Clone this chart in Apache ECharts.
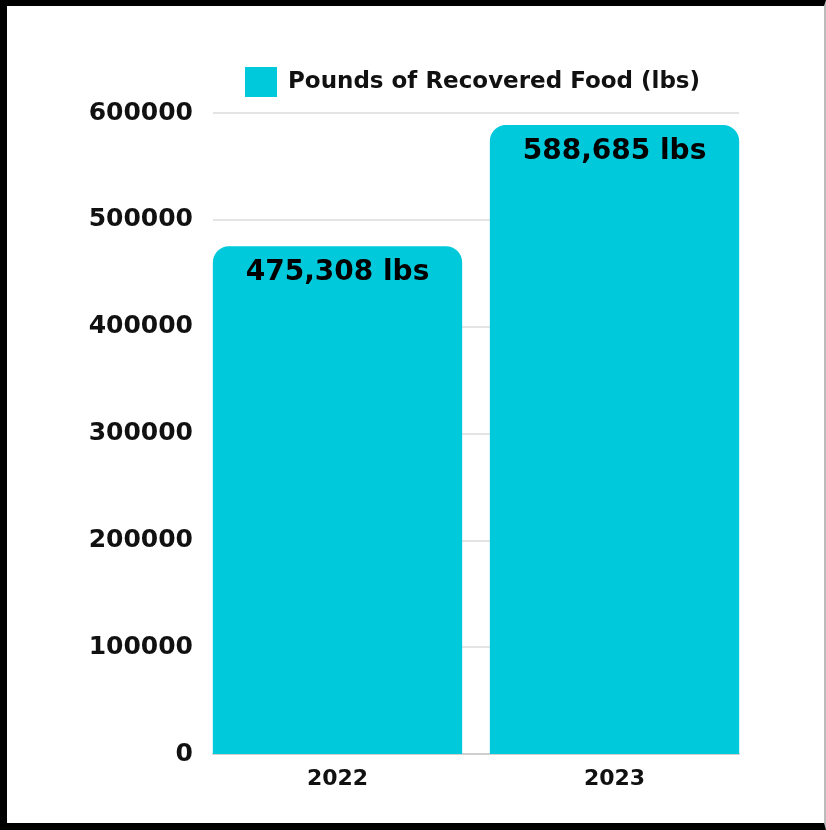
<!DOCTYPE html>
<html>
<head>
<meta charset="utf-8">
<script src="https://cdn.jsdelivr.net/npm/echarts@6/dist/echarts.min.js"></script>
<style>
  html, body { margin: 0; padding: 0; background: #fff; }
  #chart { position: absolute; left: 0; top: 0; width: 826px; height: 830px; }
  #frame {
    position: absolute; left: 0; top: 0; width: 826px; height: 830px;
    box-sizing: border-box; pointer-events: none;
    border-top: 6px solid #000; border-left: 7px solid #000;
    border-bottom: 7px solid #000; border-right: 2px solid #bbb;
  }
</style>
</head>
<body>
<div id="chart"></div>
<div id="frame"></div>
<script>
const years = ['2022', '2023']
const pounds = [475308, 588685]
const seriesName = 'Pounds of Recovered Food (lbs)'

const font = 'DejaVu Sans'
const barColor = '#00C9DB'

const dom = echarts.init(document.getElementById('chart'))
const option = {
  backgroundColor: '#fff',
  animation: false,
  legend: {
    data: [seriesName],
    left: 240,
    top: 62,
    icon: 'rect',
    itemWidth: 32,
    itemHeight: 30,
    textStyle: {
      fontFamily: font,
      fontWeight: 'bold',
      fontSize: 23,
      color: '#111',
      padding: [0, 0, 0, 6]
    }
  },
  grid: [
    // axis + gridlines
    { left: 213, right: 87, top: 113, bottom: 76 },
    // bars (slightly wider band so bars touch the axis edges)
    { left: 199, right: 73, top: 113, bottom: 76 }
  ],
  xAxis: [
    {
      type: 'category',
      gridIndex: 0,
      data: years,
      axisLine: { show: true, lineStyle: { color: '#cfcfcf', width: 2 } },
      axisTick: { show: false },
      axisLabel: { show: false }
    },
    {
      type: 'category',
      gridIndex: 1,
      data: years,
      axisLine: { show: false },
      axisTick: { show: false },
      axisLabel: {
        margin: 14,
        fontFamily: font,
        fontWeight: 'bold',
        fontSize: 22,
        color: '#111'
      }
    }
  ],
  yAxis: [
    {
      type: 'value',
      gridIndex: 0,
      min: 0,
      max: 600000,
      interval: 100000,
      axisLine: { show: false },
      axisTick: { show: false },
      axisLabel: {
        margin: 20,
        fontFamily: font,
        fontWeight: 'bold',
        fontSize: 25,
        color: '#111',
        padding: [6, 0, 0, 0],
        formatter: v => String(v)
      },
      splitLine: { lineStyle: { color: '#e4e4e4', width: 2 } }
    },
    {
      type: 'value',
      gridIndex: 1,
      min: 0,
      max: 600000,
      show: false,
      splitLine: { show: false }
    }
  ],
  series: [
    {
      name: seriesName,
      type: 'bar',
      xAxisIndex: 1,
      yAxisIndex: 1,
      barWidth: '90%',
      data: pounds,
      itemStyle: {
        color: barColor,
        borderRadius: [16, 16, 0, 0]
      },
      label: {
        show: true,
        position: 'insideTop',
        distance: 13,
        fontFamily: font,
        fontWeight: 'bold',
        fontSize: 28,
        color: '#000',
        formatter: p => p.value.toLocaleString('en-US') + ' lbs'
      }
    }
  ]
}
dom.setOption(option)
</script>
</body>
</html>
